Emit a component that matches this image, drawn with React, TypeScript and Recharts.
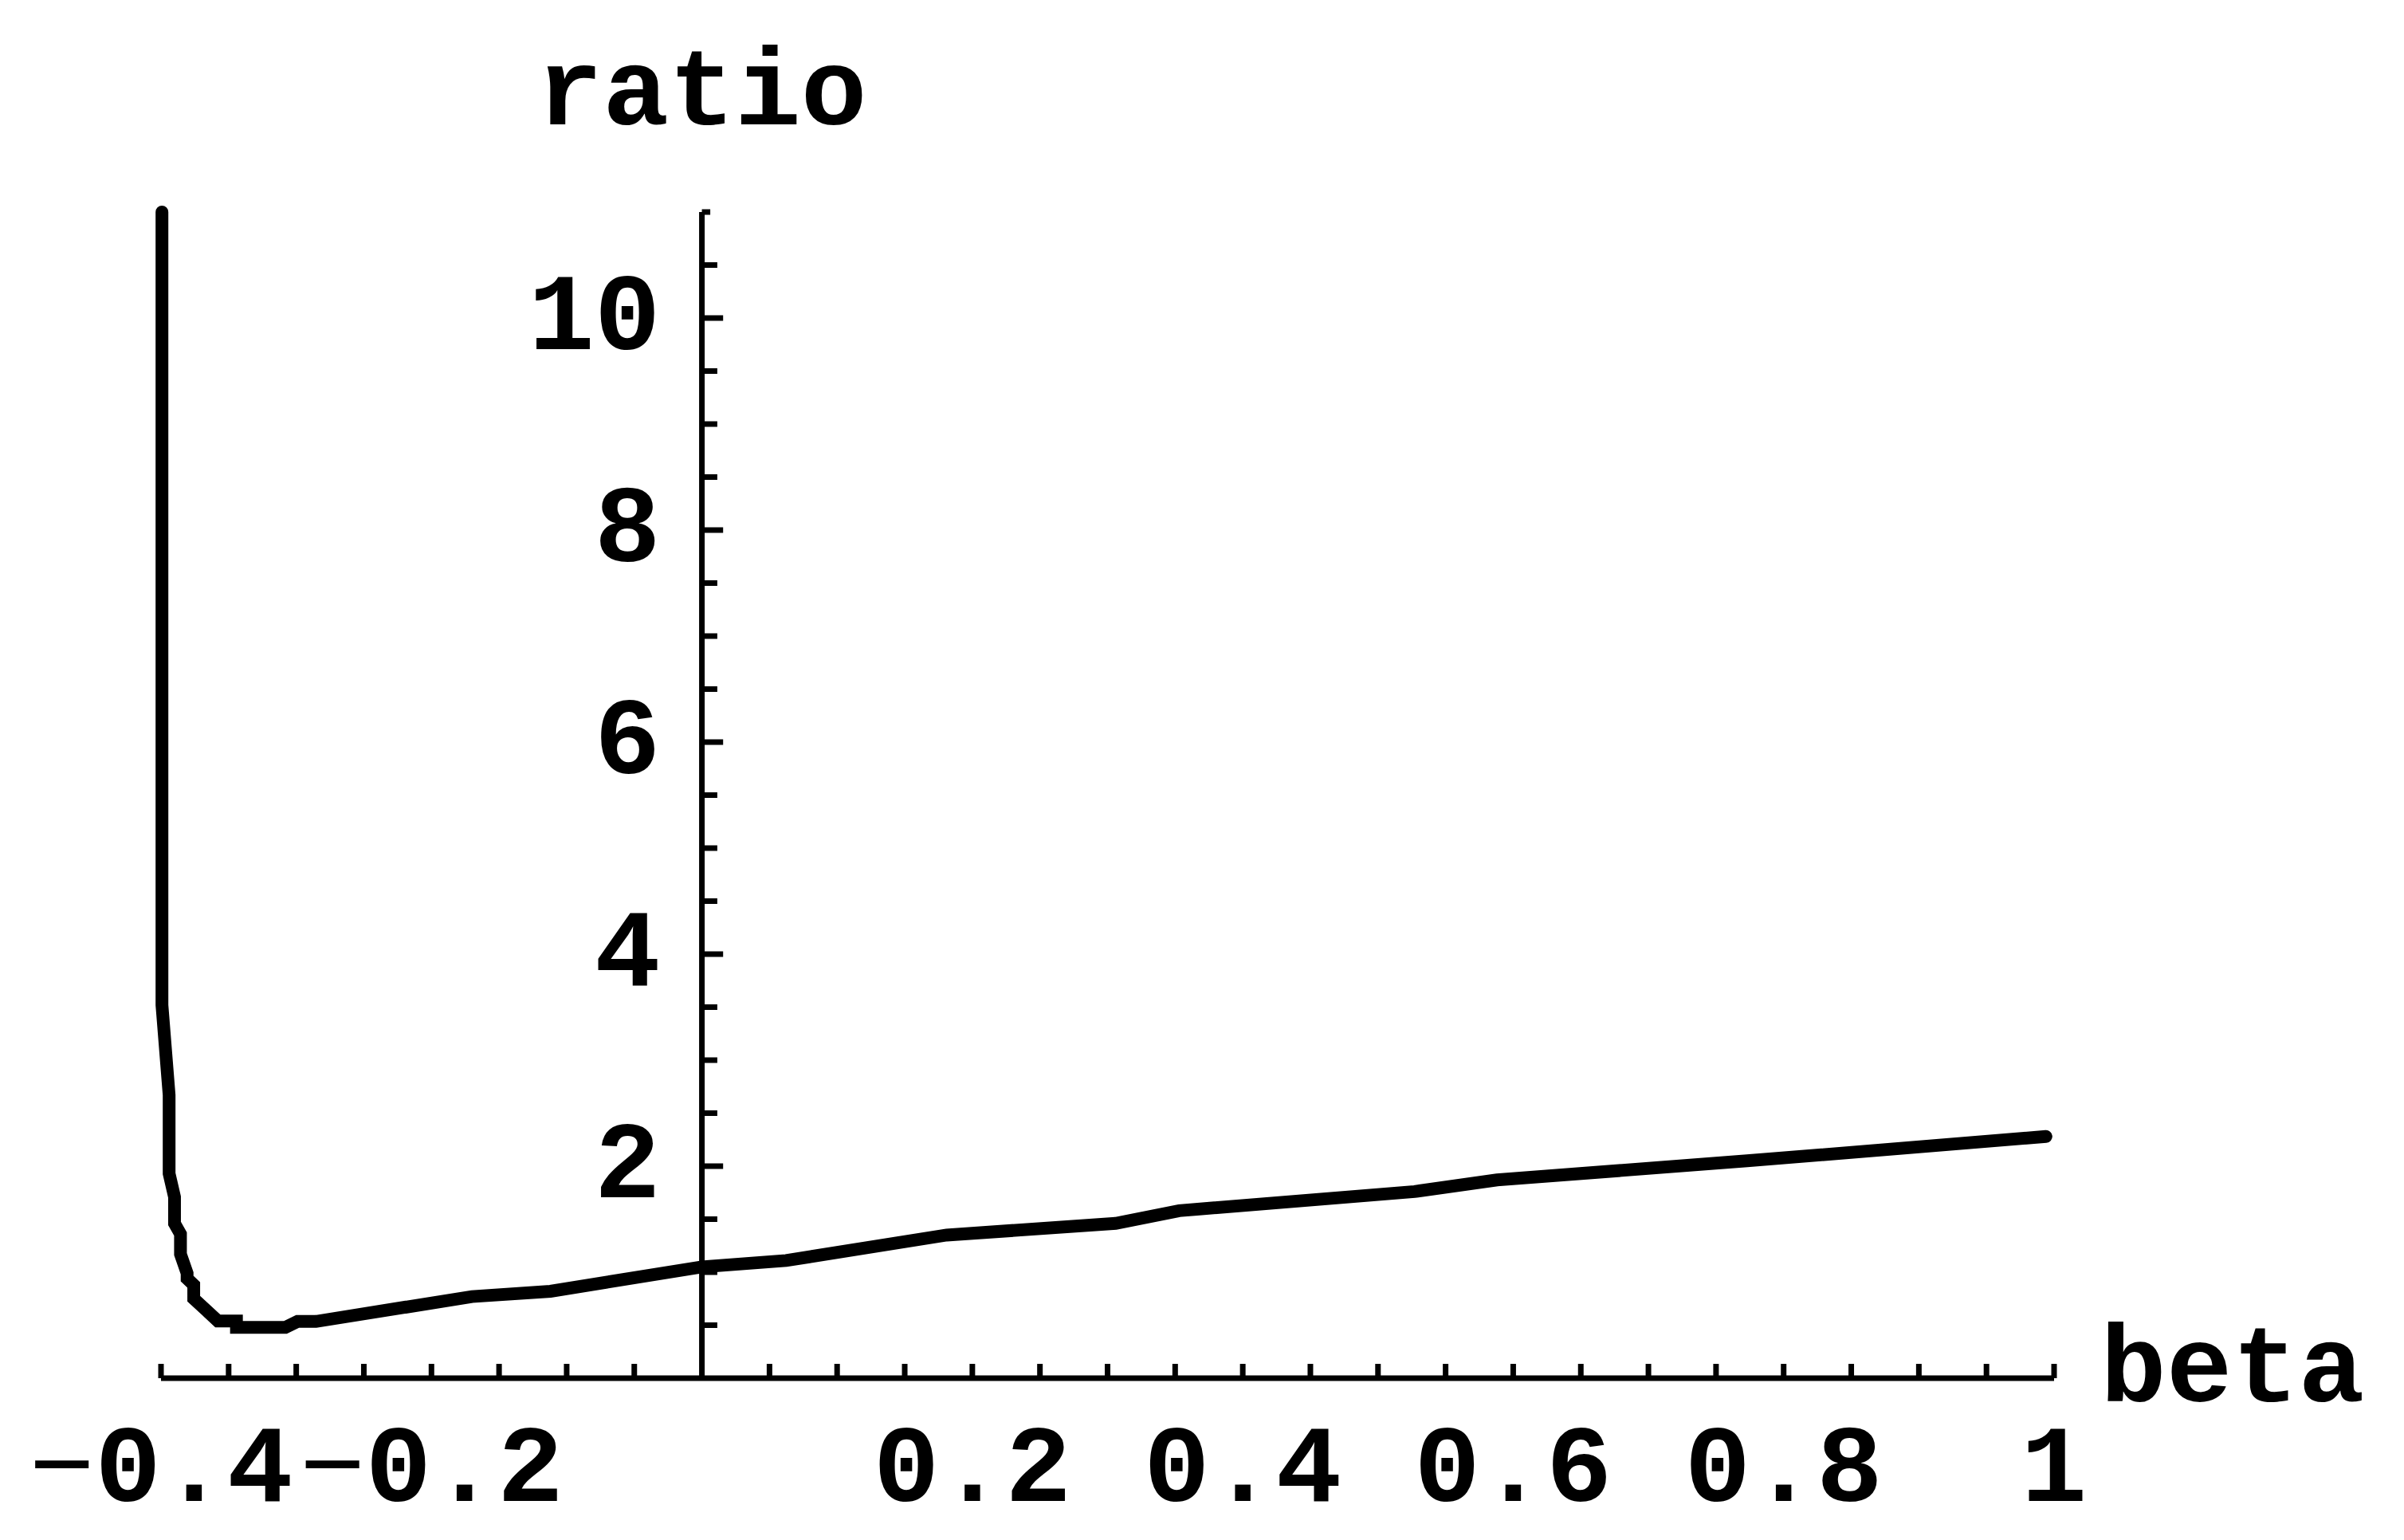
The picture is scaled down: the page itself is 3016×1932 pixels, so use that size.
// beta vs ratio curve, Mathematica-style axes crossing at the origin

import { LineChart, Line, XAxis, YAxis, ReferenceLine } from 'recharts';

const BETA = [
  -0.3993, -0.3993, -0.394, -0.394, -0.39, -0.39, -0.3856, -0.3856, -0.3807, -0.3807,
  -0.3758, -0.3758, -0.358, -0.3442, -0.3442, -0.308, -0.299, -0.2854, -0.17, -0.112,
  0, 0.0623, 0.181, 0.306, 0.353, 0.527, 0.588, 0.773, 0.994,
];
const RATIO = [
  11, 3.52, 2.67, 1.93, 1.71, 1.46, 1.36, 1.17, 0.99, 0.94,
  0.88, 0.75, 0.54, 0.54, 0.48, 0.48, 0.535, 0.535, 0.77, 0.82,
  1.05, 1.11, 1.35, 1.46, 1.58, 1.76, 1.87, 2.05, 2.28,
];

const X_LABEL_TICKS = [-0.4, -0.2, 0.2, 0.4, 0.6, 0.8, 1];
const X_MARKS = [
  -0.4, -0.35, -0.3, -0.25, -0.2, -0.15, -0.1, -0.05,
  0.05, 0.1, 0.15, 0.2, 0.25, 0.3, 0.35, 0.4, 0.45, 0.5,
  0.55, 0.6, 0.65, 0.7, 0.75, 0.8, 0.85, 0.9, 0.95, 1,
];
const Y_MAJOR = [2, 4, 6, 8, 10];
const Y_MINOR = [0.5, 1, 1.5, 2.5, 3, 3.5, 4.5, 5, 5.5, 6.5, 7, 7.5, 8.5, 9, 9.5, 10.5];

const data = BETA.map((beta, i) => ({ beta, ratio: RATIO[i] }));

const FONT = "'Liberation Mono', 'Courier New', monospace";
const textStyle = { fill: '#000', fontSize: 138, fontFamily: FONT, fontWeight: 'bold' as const };

// minus sign drawn light, like the original
function XTick({ x, y, payload }: any) {
  const v = payload.value as number;
  return (
    <text x={x} y={y} dy="0.71em" textAnchor="middle" {...textStyle}>
      {v < 0 && <tspan fontWeight="normal">{'\u2212'}</tspan>}
      {String(Math.abs(v))}
    </text>
  );
}

export default function App() {
  return (
    <div style={{ position: 'absolute', left: 0, top: 0, width: 3016, height: 1932, background: '#fff' }}>
      <LineChart width={3016} height={1932} data={data} margin={{ top: 266, right: 439, left: 202, bottom: 43 }}>
        <XAxis
          dataKey="beta"
          type="number"
          domain={[-0.4, 1]}
          ticks={X_LABEL_TICKS}
          interval={0}
          tickLine={false}
          tickSize={0}
          tickMargin={56}
          height={160}
          axisLine={{ stroke: '#000', strokeWidth: 7 }}
          tick={<XTick />}
          label={{ value: 'beta', position: 'right', offset: 58, dy: -100, ...textStyle }}
        />
        <YAxis type="number" domain={[0, 11]} hide width={0} />

        {/* y axis drawn through x = 0 */}
        <ReferenceLine
          segment={[{ x: 0, y: 0 }, { x: 0, y: 11 }]}
          stroke="#000"
          strokeWidth={7}
          label={{ value: 'ratio', position: 'top', offset: 110, ...textStyle }}
        />
        {Y_MAJOR.map((v) => (
          <ReferenceLine
            key={`ymaj${v}`}
            segment={[{ x: 0, y: v }, { x: 0.0157, y: v }]}
            stroke="#000"
            strokeWidth={7}
            label={{ value: String(v), position: 'left', offset: 52, dy: -10, ...textStyle }}
          />
        ))}
        {Y_MINOR.map((v) => (
          <ReferenceLine key={`ymin${v}`} segment={[{ x: 0, y: v }, { x: 0.0114, y: v }]} stroke="#000" strokeWidth={7} />
        ))}
        <ReferenceLine segment={[{ x: 0, y: 11 }, { x: 0.0062, y: 11 }]} stroke="#000" strokeWidth={7} />
        {X_MARKS.map((v) => (
          <ReferenceLine key={`x${v}`} segment={[{ x: v, y: 0 }, { x: v, y: 0.135 }]} stroke="#000" strokeWidth={7} />
        ))}

        <Line
          type="linear"
          dataKey="ratio"
          stroke="#000"
          strokeWidth={16}
          strokeLinecap="round"
          dot={false}
          isAnimationActive={false}
        />
      </LineChart>
    </div>
  );
}
